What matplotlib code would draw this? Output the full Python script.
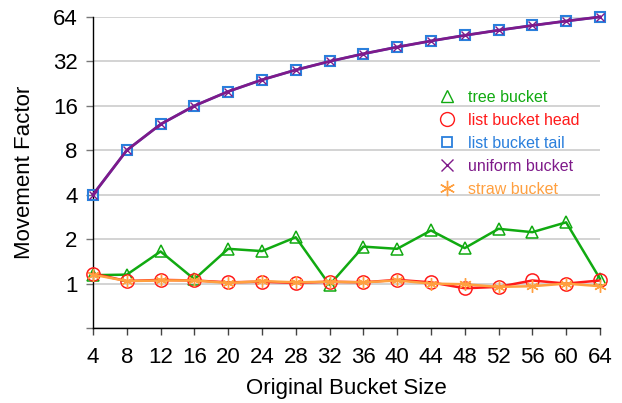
import matplotlib
matplotlib.use("Agg")
import matplotlib.pyplot as plt
from matplotlib.lines import Line2D

plt.rcParams['font.family'] = ['Liberation Sans', 'DejaVu Sans']

sizes = [4, 8, 12, 16, 20, 24, 28, 32, 36, 40, 44, 48, 52, 56, 60, 64]
tree_bucket = [1.14, 1.15, 1.65, 1.07, 1.72, 1.66, 2.06, 0.98, 1.78, 1.72, 2.29, 1.74, 2.35, 2.23, 2.6, 1.08]
list_head = [1.17, 1.04, 1.06, 1.05, 1.02, 1.03, 1.01, 1.03, 1.02, 1.06, 1.02, 0.93, 0.95, 1.05, 1.0, 1.05]
list_tail = [4, 8, 12, 16, 20, 24, 28, 32, 36, 40, 44, 48, 52, 56, 60, 64]
uniform = [4, 8, 12, 16, 20, 24, 28, 32, 36, 40, 44, 48, 52, 56, 60, 64]
straw = [1.15, 1.04, 1.05, 1.05, 1.01, 1.04, 1.02, 1.03, 1.02, 1.05, 1.0, 0.99, 0.95, 0.96, 1.0, 0.96]

y_ticks = [0.5, 1, 2, 4, 8, 16, 32, 64]
y_labels = ['', '1', '2', '4', '8', '16', '32', '64']
labels = ['tree bucket', 'list bucket head', 'list bucket tail', 'uniform bucket', 'straw bucket']

c_green = '#11aa11'
c_red = '#ff1a1a'
c_blue = '#2a7fdc'
c_purple = '#7f1a8a'
c_orange = '#ffa040'

fig = plt.figure(figsize=(6.22, 4.03), dpi=100)
ax = fig.add_axes([0.1495, 0.186, 0.815, 0.772])

ax.plot(sizes, tree_bucket, color=c_green, lw=1.8, marker='^', ms=9,
        mfc='none', mec=c_green, mew=1.1, zorder=3, clip_on=False)
ax.plot(sizes, list_head, color=c_red, lw=1.8, marker='o', ms=9.5,
        mfc='none', mec=c_red, mew=1.1, zorder=4, clip_on=False)
ax.plot(sizes, list_tail, color=c_blue, lw=1.8, marker='s', ms=7,
        mfc='none', mec=c_blue, mew=1.5, zorder=5, clip_on=False)
ax.plot(sizes, uniform, color=c_purple, lw=2, marker='x', ms=6,
        mec=c_purple, mew=1.0, zorder=6, clip_on=False)
ax.plot(sizes, straw, color=c_orange, lw=1.8, marker=(6, 2, 0), ms=9,
        mec=c_orange, mew=1.0, zorder=7, clip_on=False)

ax.set_yscale('log', base=2)
ax.set_ylim(0.5, 64)
ax.set_xlim(4, 64)
ax.set_yticks(y_ticks)
ax.set_yticklabels(y_labels)
ax.minorticks_off()
ax.set_xticks(sizes)
ax.set_xticklabels([str(s) for s in sizes])

ax.grid(axis='y', color='#cccccc', lw=1.2, zorder=0)
ax.set_axisbelow(True)
for s in ['top', 'right']:
    ax.spines[s].set_visible(False)
for s in ['left', 'bottom']:
    ax.spines[s].set_linewidth(1.0)
    ax.spines[s].set_color('black')

ax.tick_params(axis='both', labelsize=16, direction='out', length=5, width=1)
ax.tick_params(axis='y', colors='#777777', labelcolor='black', pad=6)
ax.tick_params(axis='x', colors='#444444', labelcolor='black', pad=9)
ax.set_xlabel('Original Bucket Size', fontsize=16, labelpad=7)
ax.set_ylabel('Movement Factor', fontsize=16, labelpad=13)

handles = [
    Line2D([], [], ls='none', marker='^', ms=9, mfc='none', mec=c_green, mew=1.0),
    Line2D([], [], ls='none', marker='o', ms=10, mfc='none', mec=c_red, mew=1.0),
    Line2D([], [], ls='none', marker='s', ms=7, mfc='none', mec=c_blue, mew=1.3),
    Line2D([], [], ls='none', marker='x', ms=8, mec=c_purple, mew=1.0),
    Line2D([], [], ls='none', marker=(6, 2, 0), ms=11, mec=c_orange, mew=1.0),
]
leg = ax.legend(handles, labels, loc='upper left', bbox_to_anchor=(0.67, 0.787),
                frameon=False, fontsize=11.5, handlelength=1.0, handletextpad=0.8,
                labelspacing=0.5, borderaxespad=0)
for t, c in zip(leg.get_texts(), [c_green, c_red, c_blue, c_purple, c_orange]):
    t.set_color(c)

fig.savefig('out.png', dpi=100)
